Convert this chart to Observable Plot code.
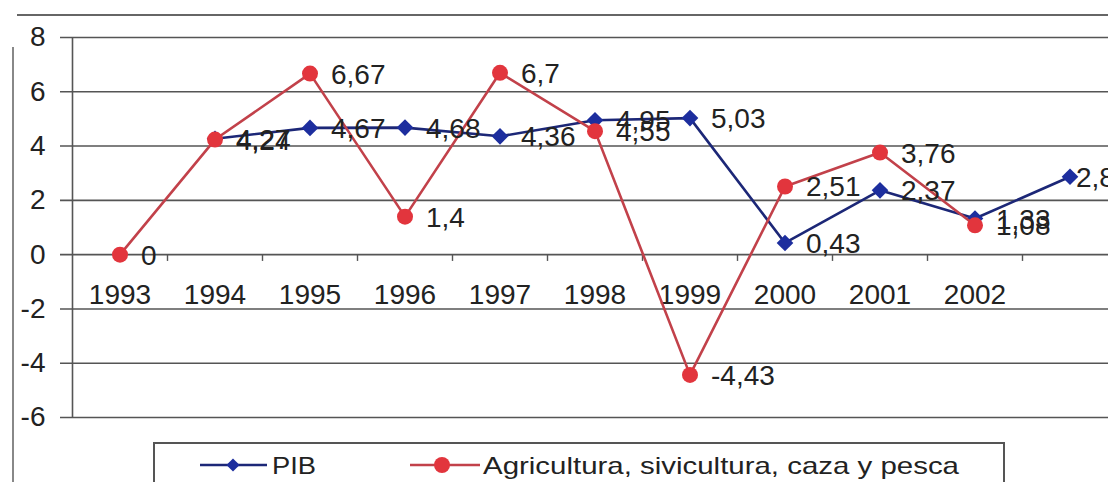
<!DOCTYPE html>
<html>
<head>
<meta charset="utf-8">
<script src="https://cdn.jsdelivr.net/npm/d3@7"></script>
<script src="https://cdn.jsdelivr.net/npm/@observablehq/plot@0.6"></script>
<style>
  html, body { margin: 0; padding: 0; background: #fff; }
  #wrap { position: relative; width: 1108px; height: 482px; overflow: hidden; background: #fff;
          font-family: "Liberation Sans", Arial, sans-serif; }
  #topline { position: absolute; left: 17px; top: 14px; width: 1091px; height: 0; border-top: 2px solid #666; }
  #leftline { position: absolute; left: 12px; top: 47px; width: 0; height: 440px; border-left: 2px solid #888; }
  #legend { position: absolute; left: 153px; top: 442px; }
</style>
</head>
<body>
<div id="wrap">
  <div id="chart"></div>
  <div id="topline"></div>
  <div id="leftline"></div>
  <svg id="legend" width="856" height="60"></svg>
</div>
<script>
// ---- data ----
const years = [1993, 1994, 1995, 1996, 1997, 1998, 1999, 2000, 2001, 2002, 2003];
const pibYears = [1994, 1995, 1996, 1997, 1998, 1999, 2000, 2001, 2002, 2003];
const pibValues = [4.27, 4.67, 4.68, 4.36, 4.95, 5.03, 0.43, 2.37, 1.33, 2.87];
const agriYears = [1993, 1994, 1995, 1996, 1997, 1998, 1999, 2000, 2001, 2002];
const agriValues = [0, 4.24, 6.67, 1.4, 6.7, 4.55, -4.43, 2.51, 3.76, 1.08];
const yTicks = [-6, -4, -2, 0, 2, 4, 6, 8];
const xTickLabels = ["1993", "1994", "1995", "1996", "1997", "1998", "1999", "2000", "2001", "2002"];
const seriesNames = ["PIB", "Agricultura, sivicultura, caza y pesca"];
const colors = { pibLine: "#1c2777", pibDot: "#1d2e9e", agriLine: "#c2414a", agriDot: "#e2353d" };

const pib = pibYears.map((y, i) => ({ year: y, value: pibValues[i] }));
const agri = agriYears.map((y, i) => ({ year: y, value: agriValues[i] }));
const fmt = v => String(v).replace(".", ",");
const boundaries = years.map(y => y + 0.5);
const pibMain = pib.slice(0, -1);   // labels placed normally
const pibLast = pib.slice(-1);      // last label squeezed against the edge

const font = "'Liberation Sans', Arial, sans-serif";

const plot = Plot.plot({
  width: 1108,
  height: 482,
  marginLeft: 60,
  marginRight: 0,
  marginTop: 0,
  marginBottom: 0,
  style: { background: "#fff", fontFamily: font, color: "#222" },
  x: { type: "linear", domain: [years[0] - 0.5, years[years.length - 1] + 0.5], range: [72, 1117], axis: null },
  y: { domain: [-6, 8], range: [417, 37], axis: null },
  marks: [
    Plot.ruleY(yTicks, { y: d => d, stroke: "#555", strokeWidth: 1.6 }),
    Plot.ruleX([years[0] - 0.5], { x: d => d, y1: -6, y2: 8, stroke: "#555", strokeWidth: 1.6 }),
    Plot.ruleX(boundaries, { x: d => d, y1: 0, y2: -0.25, stroke: "#555", strokeWidth: 1.4 }),
    Plot.axisY({ ticks: yTicks, tickSize: 0, tickPadding: 15, fontSize: 28, tickFormat: d => String(d), label: null, anchor: "left" }),
    Plot.text(xTickLabels, { x: d => +d, y: () => 0, dy: 40, text: d => d, fontSize: 28, fill: "#222" }),
    Plot.line(pib, { x: "year", y: "value", stroke: colors.pibLine, strokeWidth: 2.6 }),
    Plot.dot(pib, { x: "year", y: "value", symbol: "diamond2", r: 7.5, fill: colors.pibDot, stroke: "none" }),
    Plot.line(agri, { x: "year", y: "value", stroke: colors.agriLine, strokeWidth: 2.6 }),
    Plot.dot(agri, { x: "year", y: "value", r: 8, fill: colors.agriDot, stroke: "none" }),
    Plot.text(pibMain, { x: "year", y: "value", text: d => fmt(d.value), textAnchor: "start", dx: 21, dy: 1, fontSize: 28, fill: "#222" }),
    Plot.text(pibLast, { x: "year", y: "value", text: d => fmt(d.value), textAnchor: "start", dx: 6, dy: 1, fontSize: 28, fill: "#222" }),
    Plot.text(agri, { x: "year", y: "value", text: d => fmt(d.value), textAnchor: "start", dx: 21, dy: 1, fontSize: 28, fill: "#222" })
  ]
});
document.getElementById("chart").appendChild(plot);

// ---- legend ----
const lg = d3.select("#legend");
lg.append("rect").attr("x", 1).attr("y", 1).attr("width", 850).attr("height", 70)
  .attr("fill", "#fff").attr("stroke", "#555").attr("stroke-width", 2);
const cy = 23;
// PIB
lg.append("line").attr("x1", 47).attr("x2", 114).attr("y1", cy).attr("y2", cy).attr("stroke", colors.pibLine).attr("stroke-width", 2.6);
lg.append("path").attr("d", d3.symbol(d3.symbolDiamond2, 110)()).attr("transform", `translate(80,${cy})`).attr("fill", colors.pibDot);
lg.append("text").attr("x", 119).attr("y", cy).attr("dy", "0.36em").attr("font-size", 24).attr("font-family", font)
  .attr("fill", "#222").attr("textLength", 44).attr("lengthAdjust", "spacingAndGlyphs").text(seriesNames[0]);
// Agricultura
lg.append("line").attr("x1", 257).attr("x2", 327).attr("y1", cy).attr("y2", cy).attr("stroke", colors.agriLine).attr("stroke-width", 2.6);
lg.append("circle").attr("cx", 289).attr("cy", cy).attr("r", 8).attr("fill", colors.agriDot);
lg.append("text").attr("x", 330).attr("y", cy).attr("dy", "0.36em").attr("font-size", 24).attr("font-family", font)
  .attr("fill", "#222").attr("textLength", 476).attr("lengthAdjust", "spacingAndGlyphs").text(seriesNames[1]);
</script>
</body>
</html>
